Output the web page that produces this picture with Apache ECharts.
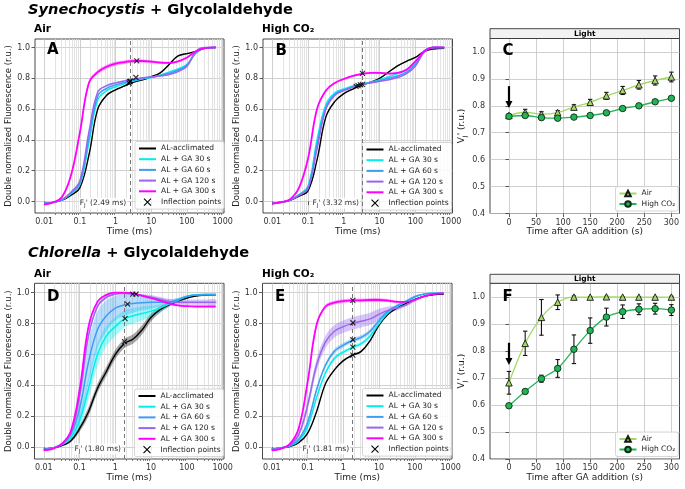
<!DOCTYPE html>
<html>
<head>
<meta charset="utf-8">
<title>Glycolaldehyde fluorescence transients</title>
<script src="https://cdn.jsdelivr.net/npm/echarts@6.0.0/dist/echarts.min.js"></script>
<style>
  html, body { margin: 0; padding: 0; background: #fff; }
  #chart { width: 685px; height: 489px; }
</style>
</head>
<body>
<div id="chart"></div>
<script>
// sampling times (ms) where the transients were read
const time = [0.01, 0.0178, 0.0316, 0.0562, 0.1, 0.178, 0.316, 0.562, 1, 1.78, 3.16, 5.62, 10, 17.8, 31.6, 56.2, 100, 178, 316, 640]
const treatments = ['AL-acclimated', 'AL + GA 30 s', 'AL + GA 60 s', 'AL + GA 120 s', 'AL + GA 300 s']
const timeTicks = [0.01, 0.1, 1, 10, 100, 1000]
const fluoTicks = [0, 0.2, 0.4, 0.6, 0.8, 1.0]

// A: Synechocystis, air
const aBlack = [-0.012, -0.006, 0.008, 0.04, 0.09, 0.3, 0.6, 0.69, 0.725, 0.75, 0.775, 0.79, 0.81, 0.835, 0.89, 0.945, 0.96, 0.975, 0.995, 1.0]
const aCyan = [-0.012, -0.006, 0.01, 0.05, 0.11, 0.38, 0.66, 0.72, 0.745, 0.765, 0.782, 0.795, 0.805, 0.82, 0.84, 0.86, 0.89, 0.965, 0.995, 1.0]
const aBlue = [-0.012, -0.006, 0.011, 0.055, 0.12, 0.41, 0.685, 0.735, 0.757, 0.772, 0.787, 0.798, 0.807, 0.818, 0.832, 0.852, 0.885, 0.965, 0.995, 1.0]
const aPurple = [-0.012, -0.006, 0.012, 0.06, 0.135, 0.45, 0.71, 0.752, 0.77, 0.783, 0.795, 0.803, 0.81, 0.815, 0.824, 0.843, 0.878, 0.975, 1.0, 1.0]
const aMagenta = [-0.02, -0.006, 0.03, 0.17, 0.45, 0.77, 0.84, 0.875, 0.895, 0.905, 0.912, 0.912, 0.908, 0.902, 0.9, 0.91, 0.935, 0.975, 0.995, 1.0]
const aSdSmall = [0.002, 0.002, 0.003, 0.005, 0.006, 0.006, 0.005, 0.005, 0.005, 0.005, 0.004, 0.004, 0.004, 0.004, 0.004, 0.004, 0.004, 0.003, 0.002, 0.002]
const aSdMagenta = [0.004, 0.004, 0.006, 0.012, 0.015, 0.015, 0.013, 0.013, 0.012, 0.012, 0.011, 0.01, 0.01, 0.008, 0.007, 0.006, 0.005, 0.004, 0.003, 0.003]
const aInflT = [2.4, 2.49, 2.6, 3.7, 3.9]
const aInflV = [0.768, 0.778, 0.782, 0.805, 0.913]

// B: Synechocystis, high CO2
const bBlack = [-0.012, -0.005, 0.008, 0.035, 0.07, 0.27, 0.55, 0.65, 0.70, 0.73, 0.755, 0.775, 0.8, 0.84, 0.88, 0.91, 0.935, 0.975, 0.99, 0.995]
const bCyan = [-0.012, -0.005, 0.01, 0.045, 0.1, 0.4, 0.63, 0.705, 0.73, 0.75, 0.762, 0.775, 0.79, 0.81, 0.83, 0.855, 0.9, 0.98, 1.0, 1.0]
const bBlue = [-0.012, -0.005, 0.009, 0.042, 0.09, 0.37, 0.61, 0.695, 0.725, 0.745, 0.76, 0.772, 0.785, 0.8, 0.815, 0.84, 0.89, 0.975, 1.0, 1.0]
const bPurple = [-0.012, -0.005, 0.009, 0.04, 0.085, 0.34, 0.6, 0.69, 0.72, 0.742, 0.758, 0.77, 0.78, 0.79, 0.805, 0.83, 0.88, 0.97, 1.0, 1.0]
const bMagenta = [-0.015, -0.005, 0.015, 0.09, 0.28, 0.6, 0.72, 0.77, 0.795, 0.815, 0.828, 0.835, 0.835, 0.83, 0.835, 0.855, 0.91, 0.975, 1.0, 1.0]
const bSdSmall = [0.002, 0.002, 0.003, 0.004, 0.005, 0.005, 0.005, 0.004, 0.004, 0.004, 0.004, 0.004, 0.004, 0.004, 0.004, 0.004, 0.004, 0.003, 0.002, 0.002]
const bSdMagenta = [0.003, 0.003, 0.004, 0.006, 0.008, 0.008, 0.007, 0.006, 0.006, 0.006, 0.006, 0.006, 0.006, 0.005, 0.005, 0.005, 0.004, 0.003, 0.002, 0.002]
const bInflT = [2.2, 2.5, 2.9, 3.3, 3.32]
const bInflV = [0.748, 0.752, 0.757, 0.76, 0.832]

// D: Chlorella, air
const dBlack = [-0.012, -0.005, 0.01, 0.04, 0.12, 0.23, 0.38, 0.49, 0.6, 0.67, 0.7, 0.76, 0.84, 0.89, 0.92, 0.945, 0.965, 0.978, 0.983, 0.985]
const dCyan = [-0.015, -0.005, 0.015, 0.06, 0.17, 0.38, 0.6, 0.72, 0.78, 0.83, 0.85, 0.865, 0.88, 0.9, 0.925, 0.95, 0.975, 0.985, 0.99, 0.99]
const dBlue = [-0.015, -0.005, 0.02, 0.08, 0.25, 0.55, 0.76, 0.85, 0.9, 0.92, 0.93, 0.935, 0.937, 0.937, 0.937, 0.955, 0.975, 0.985, 0.985, 0.985]
const dPurple = [-0.015, -0.005, 0.02, 0.09, 0.33, 0.72, 0.91, 0.97, 0.99, 0.995, 0.99, 0.98, 0.97, 0.955, 0.942, 0.938, 0.938, 0.938, 0.938, 0.938]
const dMagenta = [-0.02, -0.01, 0.02, 0.1, 0.37, 0.78, 0.94, 0.985, 1.0, 1.0, 0.995, 0.98, 0.965, 0.948, 0.93, 0.917, 0.912, 0.91, 0.91, 0.91]
const dSdBlack = [0.003, 0.003, 0.005, 0.01, 0.02, 0.03, 0.03, 0.03, 0.03, 0.03, 0.03, 0.03, 0.025, 0.02, 0.012, 0.008, 0.005, 0.004, 0.003, 0.003]
const dSdCyan = [0.003, 0.004, 0.008, 0.02, 0.045, 0.07, 0.075, 0.065, 0.06, 0.055, 0.05, 0.045, 0.035, 0.025, 0.015, 0.01, 0.008, 0.006, 0.005, 0.005]
const dSdBlue = [0.003, 0.004, 0.01, 0.03, 0.08, 0.13, 0.12, 0.1, 0.08, 0.07, 0.06, 0.05, 0.04, 0.03, 0.02, 0.012, 0.008, 0.006, 0.005, 0.005]
const dSdPurple = [0.003, 0.003, 0.005, 0.01, 0.02, 0.02, 0.015, 0.01, 0.006, 0.005, 0.006, 0.01, 0.014, 0.016, 0.017, 0.017, 0.017, 0.017, 0.017, 0.017]
const dSdMagenta = [0.002, 0.002, 0.003, 0.004, 0.005, 0.005, 0.004, 0.004, 0.003, 0.003, 0.003, 0.003, 0.004, 0.004, 0.004, 0.004, 0.004, 0.004, 0.004, 0.004]
const dInflT = [1.8, 1.87, 2.2, 3.06, 3.8]
const dInflV = [0.683, 0.832, 0.925, 0.99, 0.99]

// E: Chlorella, high CO2
const eBlack = [-0.012, -0.005, 0.005, 0.03, 0.09, 0.23, 0.41, 0.5, 0.56, 0.595, 0.62, 0.69, 0.79, 0.86, 0.9, 0.93, 0.955, 0.975, 0.985, 0.99]
const eCyan = [-0.013, -0.005, 0.008, 0.04, 0.13, 0.32, 0.48, 0.575, 0.615, 0.645, 0.67, 0.72, 0.8, 0.87, 0.91, 0.94, 0.97, 0.99, 0.995, 0.995]
const eBlue = [-0.013, -0.005, 0.01, 0.05, 0.16, 0.37, 0.53, 0.62, 0.66, 0.69, 0.71, 0.75, 0.82, 0.88, 0.915, 0.945, 0.975, 0.99, 0.995, 0.995]
const ePurple = [-0.015, -0.005, 0.015, 0.08, 0.27, 0.53, 0.68, 0.75, 0.78, 0.8, 0.815, 0.83, 0.86, 0.885, 0.9, 0.92, 0.95, 0.975, 0.99, 0.995]
const eMagenta = [-0.02, -0.01, 0.02, 0.12, 0.42, 0.79, 0.91, 0.935, 0.945, 0.95, 0.95, 0.952, 0.952, 0.948, 0.94, 0.94, 0.955, 0.975, 0.99, 0.995]
const eSdBlack = [0.002, 0.002, 0.003, 0.004, 0.005, 0.006, 0.006, 0.006, 0.006, 0.006, 0.006, 0.006, 0.005, 0.005, 0.004, 0.004, 0.003, 0.003, 0.002, 0.002]
const eSdCyan = [0.002, 0.003, 0.004, 0.006, 0.01, 0.012, 0.012, 0.012, 0.012, 0.012, 0.012, 0.012, 0.01, 0.008, 0.006, 0.005, 0.004, 0.003, 0.002, 0.002]
const eSdBlue = [0.003, 0.003, 0.005, 0.01, 0.015, 0.015, 0.015, 0.015, 0.015, 0.015, 0.015, 0.015, 0.013, 0.01, 0.008, 0.006, 0.005, 0.004, 0.003, 0.003]
const eSdPurple = [0.003, 0.003, 0.006, 0.015, 0.03, 0.04, 0.04, 0.04, 0.04, 0.04, 0.04, 0.04, 0.035, 0.025, 0.015, 0.01, 0.006, 0.005, 0.004, 0.004]
const eSdMagenta = [0.003, 0.003, 0.005, 0.01, 0.015, 0.015, 0.012, 0.012, 0.012, 0.012, 0.012, 0.012, 0.012, 0.01, 0.008, 0.006, 0.005, 0.004, 0.003, 0.003]
const eInflT = [1.85, 1.85, 1.85, 1.85, 1.85]
const eInflV = [0.595, 0.648, 0.695, 0.805, 0.95]

const fjTimes = [2.49, 3.32, 1.80, 1.81]

// C / F: VJ' after GA addition
const gaTime = [0, 30, 60, 90, 120, 150, 180, 210, 240, 270, 300]
const gaTicks = [0, 50, 100, 150, 200, 250, 300]
const vjTicks = [0.4, 0.5, 0.6, 0.7, 0.8, 0.9, 1.0]
const cAir = [0.764, 0.776, 0.769, 0.775, 0.795, 0.813, 0.837, 0.857, 0.878, 0.894, 0.907]
const cAirErr = [0.004, 0.011, 0.009, 0.007, 0.009, 0.011, 0.013, 0.015, 0.016, 0.017, 0.018]
const cCo2 = [0.761, 0.764, 0.756, 0.754, 0.758, 0.764, 0.774, 0.79, 0.8, 0.815, 0.828]
const cCo2Err = [0.006, 0.006, 0.006, 0.004, 0.005, 0.004, 0.004, 0.004, 0.005, 0.005, 0.006]
const fAir = [0.682, 0.828, 0.924, 0.98, 0.999, 0.999, 1.0, 0.999, 0.999, 0.999, 0.999]
const fAirErr = [0.042, 0.045, 0.066, 0.027, 0.004, 0.002, 0.002, 0.002, 0.002, 0.002, 0.003]
const fCo2 = [0.597, 0.65, 0.697, 0.735, 0.806, 0.875, 0.925, 0.945, 0.954, 0.956, 0.951]
const fCo2Err = [0.003, 0.008, 0.013, 0.033, 0.053, 0.047, 0.033, 0.025, 0.02, 0.02, 0.02]

const font = 'DejaVu Sans'
const lineColors = ['#000000', '#00eeee', '#3d9df5', '#9966ee', '#ff00ff']
const bandAlpha = [0.35, 0.35, 0.35, 0.38, 0.35]
const lineWidths = [1.4, 1.5, 1.5, 1.5, 1.8]
const cross = 'path://M0,0L10,10M10,0L0,10'

// minor log ticks 2..9 of each decade
const minorTicks = []
for (let d = -2; d < 3; d++) {
  for (let m = 2; m < 10; m++) minorTicks.push(Number((m * Math.pow(10, d)).toPrecision(3)))
}

const logPanels = [
  { grid: 0, means: [aBlack, aCyan, aBlue, aPurple, aMagenta], sds: [aSdSmall, aSdSmall, aSdSmall, aSdSmall, aSdMagenta], inflT: aInflT, inflV: aInflV, yMin: -0.075, yMax: 1.055 },
  { grid: 1, means: [bBlack, bCyan, bBlue, bPurple, bMagenta], sds: [bSdSmall, bSdSmall, bSdSmall, bSdSmall, bSdMagenta], inflT: bInflT, inflV: bInflV, yMin: -0.075, yMax: 1.055 },
  { grid: 3, means: [dBlack, dCyan, dBlue, dPurple, dMagenta], sds: [dSdBlack, dSdCyan, dSdBlue, dSdPurple, dSdMagenta], inflT: dInflT, inflV: dInflV, yMin: -0.076, yMax: 1.06 },
  { grid: 4, means: [eBlack, eCyan, eBlue, ePurple, eMagenta], sds: [eSdBlack, eSdCyan, eSdBlue, eSdPurple, eSdMagenta], inflT: eInflT, inflV: eInflV, yMin: -0.076, yMax: 1.06 }
]

const gridBoxes = [
  [35, 39, 189, 174], [263, 39, 189.5, 174], [490, 38.5, 189.5, 175],
  [34.5, 283.3, 189.5, 175.7], [262.5, 283.3, 189.5, 175.7], [490, 283.3, 189.5, 175.7]
]

const tickLabel = { fontSize: 8, color: '#333', fontFamily: font }
const xAxes = []
const yAxes = []
const series = []

// shaded mean ± sd band, drawn as one smoothed polygon through the axis scales
function bandRenderer (lo, hi, color, alpha) {
  return function (params, api) {
    if (params.dataIndex !== 0) return null
    const pts = []
    for (let i = 0; i < time.length; i++) pts.push(api.coord([time[i], lo[i]]))
    for (let i = time.length - 1; i >= 0; i--) pts.push(api.coord([time[i], hi[i]]))
    return {
      type: 'polygon',
      shape: { points: pts, smooth: 0.35 },
      style: { fill: color, opacity: alpha }
    }
  }
}

logPanels.forEach((p, k) => {
  const xi = xAxes.length
  xAxes.push({
    type: 'log', gridIndex: p.grid, min: 0.0055, max: 1090, position: 'bottom',
    name: 'Time (ms)', nameLocation: 'middle', nameGap: 13,
    nameTextStyle: { fontSize: 9, color: '#222', fontFamily: font },
    axisLine: { show: false },
    axisTick: { length: 3.5, lineStyle: { color: '#333', width: 0.8 }, customValues: timeTicks },
    axisLabel: Object.assign({ customValues: timeTicks, margin: 5, formatter: v => String(Number(Number(v).toPrecision(3))) }, tickLabel),
    splitLine: { show: true, lineStyle: { color: '#c4c4c4', width: 0.8 } }
  })
  xAxes.push({
    type: 'log', gridIndex: p.grid, min: 0.0055, max: 1090, position: 'bottom',
    axisLine: { show: false },
    axisTick: { length: 2, lineStyle: { color: '#333', width: 0.6 }, customValues: minorTicks },
    axisLabel: { show: false },
    splitLine: { show: true, lineStyle: { color: '#dcdcdc', width: 0.8 } }
  })
  const yi = yAxes.length
  yAxes.push({
    type: 'value', gridIndex: p.grid, min: p.yMin, max: p.yMax,
    name: 'Double normalized Fluorescence (r.u.)', nameLocation: 'middle', nameGap: 20,
    nameTextStyle: { fontSize: 8.5, color: '#222', fontFamily: font },
    axisLine: { show: false },
    axisTick: { length: 3.5, lineStyle: { color: '#333', width: 0.8 }, customValues: fluoTicks },
    axisLabel: Object.assign({ customValues: fluoTicks, margin: 5, formatter: v => Number(v).toFixed(1) }, tickLabel),
    splitLine: { show: true, lineStyle: { color: '#c4c4c4', width: 0.8 } }
  })

  p.means.forEach((m, j) => {
    const sd = p.sds[j]
    const lo = m.map((v, i) => v - sd[i])
    const hi = m.map((v, i) => v + sd[i])
    series.push({
      type: 'custom', name: 'band' + k + '_' + j, xAxisIndex: xi, yAxisIndex: yi,
      silent: true, z: 1, encode: { x: 0, y: [1, 2] },
      renderItem: bandRenderer(lo, hi, lineColors[j], bandAlpha[j]),
      data: time.map((t, i) => [t, lo[i], hi[i]])
    })
  })

  // mean transients
  p.means.forEach((m, j) => {
    const s = {
      type: 'line', name: treatments[j], xAxisIndex: xi, yAxisIndex: yi,
      smooth: 0.4, symbol: 'none', z: 3,
      lineStyle: { color: lineColors[j], width: lineWidths[j] },
      itemStyle: { color: lineColors[j] },
      data: time.map((t, i) => [t, m[i]])
    }
    if (j === 0) {
      const fj = fjTimes[k]
      s.markLine = {
        silent: true, symbol: 'none', animation: false,
        lineStyle: { color: '#777', width: 1, type: [4, 3] },
        label: { show: false },
        data: [{ xAxis: fj }]
      }
      s.markPoint = {
        silent: true, symbol: 'circle', symbolSize: 1, itemStyle: { color: 'rgba(0,0,0,0)' },
        data: [{
          coord: [fj, -0.012],
          label: {
            show: true, position: 'left', distance: 2, color: '#333', fontSize: 7.5, lineHeight: 11,
            fontFamily: font, backgroundColor: 'rgba(255,255,255,0.85)', padding: [0, 1],
            formatter: 'F{sub|J}\' (' + fj.toFixed(2) + ' ms)',
            rich: { sub: { fontSize: 5.5, lineHeight: 6, verticalAlign: 'bottom', fontFamily: font, color: '#333' } }
          }
        }]
      }
    }
    series.push(s)
  })

  series.push({
    type: 'scatter', name: 'Inflection points', xAxisIndex: xi, yAxisIndex: yi, z: 5,
    symbol: cross, symbolSize: 5,
    itemStyle: { color: 'rgba(0,0,0,0)', borderColor: '#000', borderWidth: 1.1 },
    data: p.inflT.map((t, i) => [t, p.inflV[i]])
  })
})

// C and F panels
function errorBars (params, api) {
  const x = api.value(0)
  const y = api.value(1)
  const e = api.value(2)
  const hi = api.coord([x, y + e])
  const lo = api.coord([x, y - e])
  const st = { stroke: '#111', lineWidth: 1.1 }
  return {
    type: 'group',
    children: [
      { type: 'line', shape: { x1: hi[0], y1: hi[1], x2: lo[0], y2: lo[1] }, style: st },
      { type: 'line', shape: { x1: hi[0] - 2.2, y1: hi[1], x2: hi[0] + 2.2, y2: hi[1] }, style: st },
      { type: 'line', shape: { x1: lo[0] - 2.2, y1: lo[1], x2: lo[0] + 2.2, y2: lo[1] }, style: st }
    ]
  }
}

const vjPanels = [
  { grid: 2, air: cAir, airErr: cAirErr, co2: cCo2, co2Err: cCo2Err, arrow: [0.873, 0.805] },
  { grid: 5, air: fAir, airErr: fAirErr, co2: fCo2, co2Err: fCo2Err, arrow: [0.83, 0.761] }
]

vjPanels.forEach(p => {
  const xi = xAxes.length
  xAxes.push({
    type: 'value', gridIndex: p.grid, min: -35, max: 315,
    name: 'Time after GA addition (s)', nameLocation: 'middle', nameGap: 13,
    nameTextStyle: { fontSize: 9, color: '#222', fontFamily: font },
    axisLine: { show: false },
    axisTick: { length: 3.5, lineStyle: { color: '#333', width: 0.8 }, customValues: gaTicks },
    axisLabel: Object.assign({ customValues: gaTicks, margin: 5 }, tickLabel),
    splitLine: { show: true, lineStyle: { color: '#c4c4c4', width: 0.8 } }
  })
  const yi = yAxes.length
  yAxes.push({
    type: 'value', gridIndex: p.grid, min: 0.4, max: 1.05,
    name: 'V{sub|J}\' (r.u.)', nameLocation: 'middle', nameGap: 22,
    nameTextStyle: { fontSize: 9, color: '#222', fontFamily: font, lineHeight: 12, rich: { sub: { fontSize: 6, lineHeight: 6, verticalAlign: 'bottom', fontFamily: font, color: '#222' } } },
    axisLine: { show: false },
    axisTick: { length: 3.5, lineStyle: { color: '#333', width: 0.8 }, customValues: vjTicks },
    axisLabel: Object.assign({ customValues: vjTicks, margin: 5, formatter: v => Number(v).toFixed(1) }, tickLabel),
    splitLine: { show: true, lineStyle: { color: '#c4c4c4', width: 0.8 } }
  })
  series.push({
    type: 'custom', name: 'Air err', xAxisIndex: xi, yAxisIndex: yi, z: 2, silent: true,
    renderItem: errorBars, encode: { x: 0, y: 1 },
    data: gaTime.map((t, i) => [t, p.air[i], p.airErr[i]])
  })
  series.push({
    type: 'custom', name: 'CO2 err', xAxisIndex: xi, yAxisIndex: yi, z: 2, silent: true,
    renderItem: errorBars, encode: { x: 0, y: 1 },
    data: gaTime.map((t, i) => [t, p.co2[i], p.co2Err[i]])
  })
  series.push({
    type: 'line', name: 'Air', xAxisIndex: xi, yAxisIndex: yi, z: 4, smooth: 0.3,
    symbol: 'triangle', symbolSize: 6.5,
    lineStyle: { color: '#a3d865', width: 1.3 },
    itemStyle: { color: '#a3d865', borderColor: '#1a1a1a', borderWidth: 0.9 },
    data: gaTime.map((t, i) => [t, p.air[i]]),
    markLine: {
      silent: true, animation: false, symbol: ['none', 'triangle'], symbolSize: 7,
      lineStyle: { color: '#000', width: 2.2, type: 'solid' }, label: { show: false },
      data: [[{ coord: [0, p.arrow[0]] }, { coord: [0, p.arrow[1]] }]]
    }
  })
  series.push({
    type: 'line', name: 'High CO₂', xAxisIndex: xi, yAxisIndex: yi, z: 4, smooth: 0.3,
    symbol: 'circle', symbolSize: 6.5,
    lineStyle: { color: '#22b455', width: 1.3 },
    itemStyle: { color: '#22b455', borderColor: '#0d2e18', borderWidth: 0.9 },
    data: gaTime.map((t, i) => [t, p.co2[i]])
  })
})

function fluoLegend (left, top) {
  return {
    orient: 'vertical', left: left, top: top, padding: [3, 3], itemGap: 2.7,
    itemWidth: 17, itemHeight: 7, selectedMode: false,
    backgroundColor: 'rgba(255,255,255,0.85)', borderColor: '#cccccc', borderWidth: 0.8, borderRadius: 2,
    textStyle: { fontSize: 7.5, lineHeight: 8, color: '#222', fontFamily: font },
    itemStyle: { opacity: 0 },
    data: treatments.concat([{
      name: 'Inflection points', icon: cross,
      itemStyle: { opacity: 1, color: 'rgba(0,0,0,0)', borderColor: '#000', borderWidth: 1.1 }
    }])
  }
}
function vjLegend (left, top) {
  return {
    orient: 'vertical', left: left, top: top, padding: [3, 3], itemGap: 2.5,
    itemWidth: 17, itemHeight: 7, selectedMode: false,
    backgroundColor: 'rgba(255,255,255,0.85)', borderColor: '#cccccc', borderWidth: 0.8, borderRadius: 2,
    textStyle: { fontSize: 7.5, lineHeight: 8, color: '#222', fontFamily: font },
    data: ['Air', 'High CO₂']
  }
}

const head = { fontSize: 14.6, fontWeight: 'bold', color: '#000', fontFamily: font, rich: { i: { fontSize: 14.6, fontWeight: 'bold', fontStyle: 'italic', color: '#000', fontFamily: font } } }
const sub = { fontSize: 10.5, fontWeight: 'bold', color: '#000', fontFamily: font }
const letter = { fontSize: 15, fontWeight: 'bold', color: '#000', fontFamily: font }
const titles = [
  { text: '{i|Synechocystis} + Glycolaldehyde', left: 28, top: 3, padding: 0, textStyle: head },
  { text: 'Air', left: 34, top: 24, padding: 0, textStyle: sub },
  { text: 'High CO₂', left: 262, top: 24, padding: 0, textStyle: sub },
  { text: '{i|Chlorella} + Glycolaldehyde', left: 28, top: 246, padding: 0, textStyle: head },
  { text: 'Air', left: 34, top: 269, padding: 0, textStyle: sub },
  { text: 'High CO₂', left: 262, top: 269, padding: 0, textStyle: sub },
  { text: 'A', left: 47, top: 43, padding: 0, textStyle: letter },
  { text: 'B', left: 275.5, top: 44, padding: 0, textStyle: letter },
  { text: 'C', left: 502.5, top: 44, padding: 0, textStyle: letter },
  { text: 'D', left: 47, top: 289.5, padding: 0, textStyle: letter },
  { text: 'E', left: 275, top: 289.5, padding: 0, textStyle: letter },
  { text: 'F', left: 502.5, top: 290, padding: 0, textStyle: letter }
]

function lightStrip (y, h) {
  return [
    { type: 'rect', shape: { x: 490, y: y, width: 189.5, height: h }, style: { fill: '#f2f2f2', stroke: '#333', lineWidth: 0.9 }, z: 10 },
    { type: 'text', x: 584.75, y: y + h / 2, style: { text: 'Light', fontSize: 7.5, fontWeight: 'bold', fontFamily: font, fill: '#000', align: 'center', verticalAlign: 'middle' }, z: 11 }
  ]
}

const chart = echarts.init(document.getElementById('chart'))
chart.setOption({
  animation: false,
  backgroundColor: '#fff',
  title: titles,
  grid: gridBoxes.map(b => ({ left: b[0], top: b[1], width: b[2], height: b[3], show: true, borderColor: '#333', borderWidth: 0.9, outerBoundsMode: 'none' })),
  xAxis: xAxes,
  yAxis: yAxes,
  legend: [
    fluoLegend(135, 141.5), fluoLegend(362.5, 142.5), fluoLegend(134.5, 389), fluoLegend(362.5, 388.5),
    vjLegend(615.5, 186.5), vjLegend(615.5, 432)
  ],
  graphic: lightStrip(28.7, 9.8).concat(lightStrip(274.3, 9)),
  series: series
})
</script>
</body>
</html>
